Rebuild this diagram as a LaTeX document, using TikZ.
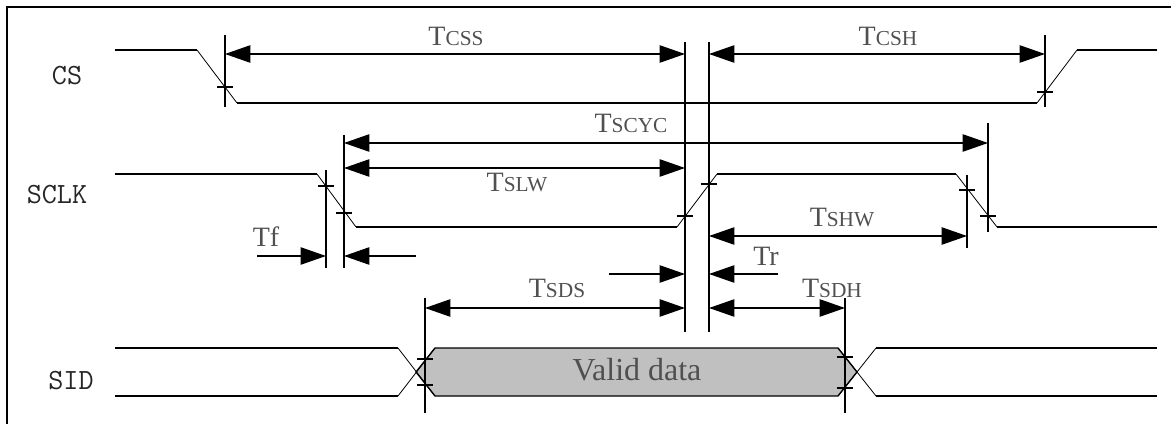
\documentclass[tikz,border=0pt]{standalone}
\usepackage{fontspec}
\setmainfont{Liberation Serif}
\usepackage{xcolor}
\usepackage{tikz}
\usetikzlibrary{arrows.meta}

\definecolor{datagray}{RGB}{192,192,192}
\definecolor{labelgray}{RGB}{80,80,80}
\newcommand{\tname}[1]{T{\fontsize{16}{18}\selectfont #1}}

\tikzset{
  sigline/.style={line width=1pt},
  slope/.style={line width=0.6pt},
  refline/.style={line width=1pt},
  tickline/.style={line width=0.8pt},
  dimline/.style={line width=1pt, {Triangle[length=19pt,width=13pt]}-{Triangle[length=19pt,width=13pt]}},
  pointer/.style={line width=1pt, -{Triangle[length=19pt,width=13pt]}},
  pinlabel/.style={inner sep=0pt, font=\ttfamily\fontsize{22}{24}\selectfont, text=black!85},
  tlabel/.style={inner sep=0pt, font=\fontsize{21}{24}\selectfont, text=labelgray}
}

\begin{document}
\begin{tikzpicture}[x=0.75pt,y=0.75pt,yscale=-1,xscale=1]

\useasboundingbox (0,0) rectangle (1171,424);

\draw [line width=1.8pt] (7,424) -- (7,7) -- (1171,7);

% signal names
\node (cs) [pinlabel] at (67,76) {CS};
\node (sclk) [pinlabel] at (57,195) {SCLK};
\node (sid) [pinlabel] at (71,381) {SID};

% CS
\draw [sigline] (115,50) -- (197,50);
\draw [slope] (197,50) -- (237,103);
\draw [sigline] (237,103) -- (1037,103);
\draw [slope] (1037,103) -- (1077,50);
\draw [sigline] (1077,50) -- (1157,50);

% SCLK
\draw [sigline] (115,174) -- (317,174);
\draw [slope] (317,174) -- (356,227);
\draw [sigline] (356,227) -- (677,227);
\draw [slope] (677,227) -- (717,174);
\draw [sigline] (717,174) -- (956,174);
\draw [slope] (956,174) -- (997,227);
\draw [sigline] (997,227) -- (1157,227);

% SID
\draw [sigline, fill=datagray] (416,372) -- (435,348) -- (838,348) -- (857,372) -- (838,396) -- (435,396) -- cycle;
\draw [sigline] (115,348) -- (398,348);
\draw [sigline] (115,396) -- (398,396);
\draw [slope] (398,348) -- (435,396);
\draw [slope] (398,396) -- (435,348);
\draw [slope] (838,348) -- (876,396);
\draw [slope] (838,396) -- (876,348);
\draw [sigline] (876,348) -- (1157,348);
\draw [sigline] (876,396) -- (1157,396);
\node (valid) [tlabel, font=\fontsize{24}{28}\selectfont] at (637,370) {Valid data};

% reference lines
\foreach \x/\ya/\yb in {225/35/107, 685/42/332, 709/42/332, 1045/35/107,
    344/135/268, 326/170/268, 988/123/232, 967/175/248, 425/298/413, 845/298/413}
  \draw [refline] (\x,\ya) -- (\x,\yb);

% crossing ticks
\foreach \x/\y in {225/87, 1045/92, 326/186, 344/213, 685/216, 709/184,
    967/190, 988/216, 425/359, 425/385, 845/357, 845/388}
  \draw [tickline] (\x-8,\y) -- (\x+8,\y);

% arrow ends
\coordinate (cssA) at (225,54);
\coordinate (cssB) at (685,54);
\coordinate (cshA) at (709,54);
\coordinate (cshB) at (1045,54);
\coordinate (cycA) at (344,143);
\coordinate (cycB) at (988,143);
\coordinate (slwA) at (344,168);
\coordinate (slwB) at (685,168);
\coordinate (shwA) at (709,236);
\coordinate (shwB) at (967,236);
\coordinate (sdsA) at (425,308);
\coordinate (sdsB) at (685,308);
\coordinate (sdhA) at (709,308);
\coordinate (sdhB) at (845,308);
\coordinate (tfL) at (257,256);
\coordinate (tfA) at (326,256);
\coordinate (tfB) at (344,256);
\coordinate (tfR) at (416,256);
\coordinate (trL) at (609,274);
\coordinate (trA) at (685,274);
\coordinate (trB) at (709,274);
\coordinate (trR) at (778,274);

\draw [dimline] (cssA) -- (cssB);
\draw [dimline] (cshA) -- (cshB);
\draw [dimline] (cycA) -- (cycB);
\draw [dimline] (slwA) -- (slwB);
\draw [dimline] (shwA) -- (shwB);
\draw [dimline] (sdsA) -- (sdsB);
\draw [dimline] (sdhA) -- (sdhB);
\draw [pointer] (tfL) -- (tfA);
\draw [pointer] (tfR) -- (tfB);
\draw [pointer] (trL) -- (trA);
\draw [pointer] (trR) -- (trB);

% timing names
\node (tcss) [tlabel] at (456,36) {\tname{CSS}};
\node (tcsh) [tlabel] at (888,36) {\tname{CSH}};
\node (tscyc) [tlabel] at (631,123) {\tname{SCYC}};
\node (tslw) [tlabel] at (517,182) {\tname{SLW}};
\node (tshw) [tlabel] at (842,217) {\tname{SHW}};
\node (tsds) [tlabel] at (557,288) {\tname{SDS}};
\node (tsdh) [tlabel] at (832,288) {\tname{SDH}};
\node (tf) [tlabel] at (266,237) {Tf};
\node (tr) [tlabel] at (766,256) {Tr};

\end{tikzpicture}
\end{document}
